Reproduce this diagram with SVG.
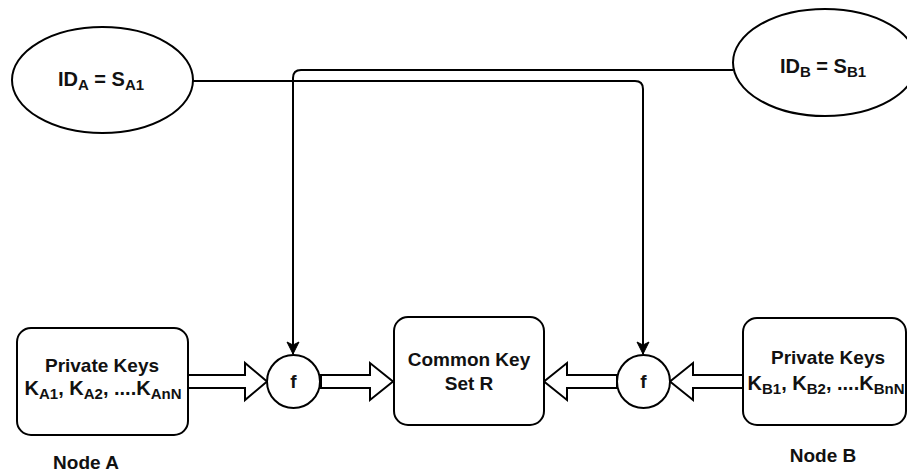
<svg xmlns="http://www.w3.org/2000/svg" width="907" height="474" viewBox="0 0 907 474">
<style>
.shape{fill:#fff;stroke:#000;stroke-width:2}
.conn{fill:none;stroke:#000;stroke-width:2}
.flex{fill:#fff;stroke:#000;stroke-width:2;stroke-linejoin:miter}
text{font-family:"Liberation Sans",Arial,sans-serif;font-weight:bold;fill:#111;text-anchor:middle}
.t{font-size:19px}
.k{font-size:20px}
.s{font-size:15px}
</style>
<defs>
<marker id="arr" markerUnits="userSpaceOnUse" markerWidth="14" markerHeight="14" viewBox="0 0 14 14" refX="13" refY="7" orient="auto">
<path d="M1,1 L13,7 L1,13 L4,7 z" fill="#000" stroke="#000" stroke-width="1"/>
</marker>
</defs>
<rect width="907" height="474" fill="#fff"/>
<g id="connectors">
<path class="conn" d="M733,70 H301 Q293,70 293,78 V354" marker-end="url(#arr)"/>
<path class="conn" d="M193,81 H635 Q643,81 643,89 V354" marker-end="url(#arr)"/>
<polygon class="flex" points="188,375 245,375 245,363 267,381.5 245,400 245,388 188,388"/>
<polygon class="flex" points="321,375 370,375 370,363 393,381.5 370,400 370,388 321,388"/>
<polygon class="flex" points="617,375 567,375 567,363 544,381.5 567,400 567,388 617,388"/>
<polygon class="flex" points="743,375 693,375 693,363 670,381.5 693,400 693,388 743,388"/>
</g>
<g id="idA">
<ellipse class="shape" cx="102.5" cy="80" rx="90.5" ry="53"/>
<text class="k" x="101" y="86">ID<tspan class="s" dy="4">A</tspan><tspan dy="-4"> = S</tspan><tspan class="s" dy="4">A1</tspan></text>
</g>
<g id="idB">
<ellipse class="shape" cx="825" cy="62.5" rx="92" ry="53.5"/>
<text class="k" x="823" y="73">ID<tspan class="s" dy="4">B</tspan><tspan dy="-4"> = S</tspan><tspan class="s" dy="4">B1</tspan></text>
</g>
<g id="nodeA">
<rect class="shape" x="17" y="328" width="171" height="107" rx="14"/>
<text class="t" x="102" y="372">Private Keys</text>
<text class="k" x="103" y="395">K<tspan class="s" dy="4">A1</tspan><tspan dy="-4">, K</tspan><tspan class="s" dy="4">A2</tspan><tspan dy="-4">, ....K</tspan><tspan class="s" dy="4">AnN</tspan></text>
<text class="t" x="86" y="469">Node A</text>
</g>
<g id="fA">
<circle class="shape" cx="293.5" cy="381.5" r="26.5"/>
<text class="t" x="293.5" y="388">f</text>
</g>
<g id="common">
<rect class="shape" x="394" y="317" width="150" height="108" rx="14"/>
<text class="t" x="469" y="366">Common Key</text>
<text class="t" x="469" y="390">Set R</text>
</g>
<g id="fB">
<circle class="shape" cx="643.5" cy="381.5" r="26.5"/>
<text class="t" x="643.5" y="388">f</text>
</g>
<g id="nodeB">
<rect class="shape" x="743" y="318" width="163" height="107" rx="14"/>
<text class="t" x="828" y="364">Private Keys</text>
<text class="k" x="826" y="390">K<tspan class="s" dy="4">B1</tspan><tspan dy="-4">, K</tspan><tspan class="s" dy="4">B2</tspan><tspan dy="-4">, ....K</tspan><tspan class="s" dy="4">BnN</tspan></text>
<text class="t" x="823" y="462">Node B</text>
</g>
</svg>
